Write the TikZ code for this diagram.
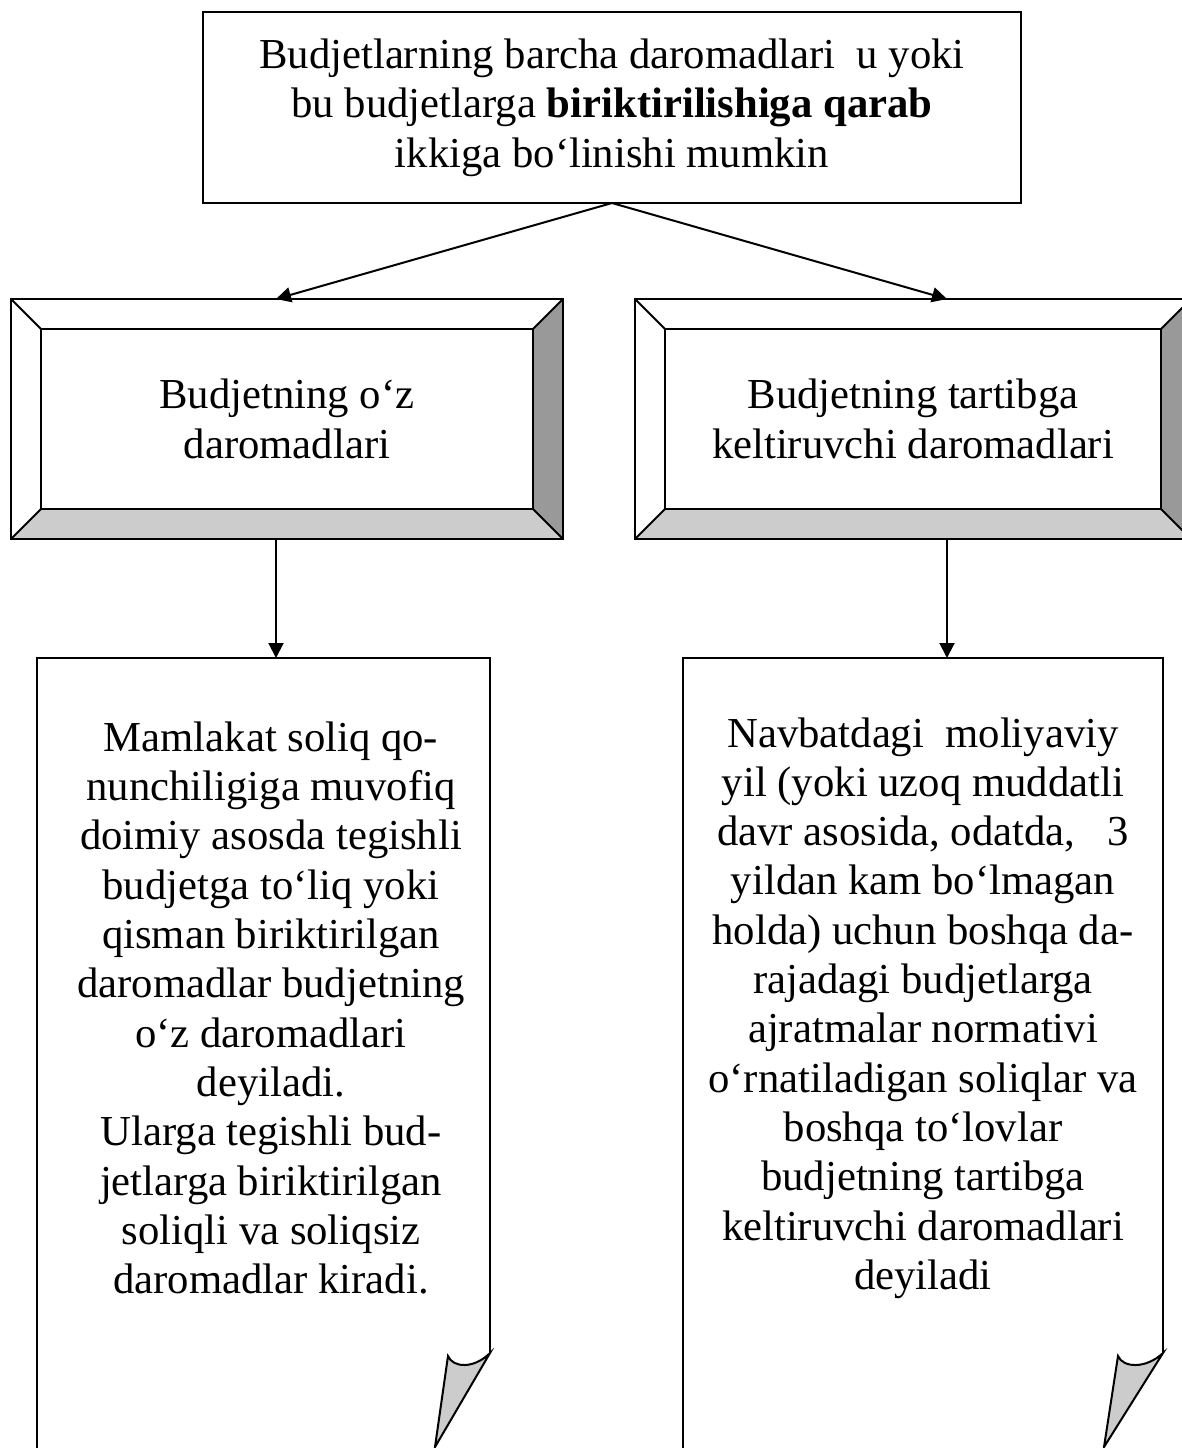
\documentclass[tikz,border=0pt]{standalone}
\usepackage{fontspec}
\setmainfont{Liberation Serif}
\usetikzlibrary{positioning,arrows.meta}
\definecolor{bevlight}{RGB}{204,204,204}
\definecolor{bevdark}{RGB}{153,153,153}
\tikzset{
  txt/.style={font=\fontsize{42.7}{49.3}\selectfont,align=center,inner sep=0pt},
  rulebox/.style={draw,line width=2pt,minimum width=818pt,minimum height=191pt,outer sep=0pt,txt},
  bevbox/.style={minimum height=240pt,outer sep=0pt,txt},
  pagebox/.style={minimum height=798pt,outer sep=0pt,inner sep=0pt},
  edge/.style={line width=2pt,line join=miter},
  arr/.style={line width=2pt,-{Triangle[length=15pt,width=15pt]}}
}
\begin{document}
\begin{tikzpicture}[x=1pt,y=-1pt]
  \useasboundingbox (0,0) rectangle (1182,1448);
  \clip (0,0) rectangle (1182,1448);
  \node[rulebox] (rule) at (612,107.5) {Budjetlarning barcha daromadlari\ \ u yoki\\bu budjetlarga \textbf{biriktirilishiga qarab}\\ikkiga bo‘linishi mumkin};
  \node[bevbox,minimum width=552pt] (ownbox) at (287,419) {Budjetning o‘z\\daromadlari};
  \node[bevbox,minimum width=556pt] (regbox) at (913,419) {Budjetning tartibga\\keltiruvchi daromadlari};
  \node[pagebox,minimum width=453pt] (owndoc) at (263.5,1057) {};
  \node[pagebox,minimum width=480pt] (regdoc) at (923,1057) {};
  \coordinate (ownpin) at (276,0);
  \coordinate (regpin) at (947,0);
  \foreach \b in {ownbox,regbox}{
    \coordinate (\b-nw) at ([xshift=30pt,yshift=-30pt]\b.north west);
    \coordinate (\b-ne) at ([xshift=-30pt,yshift=-30pt]\b.north east);
    \coordinate (\b-se) at ([xshift=-30pt,yshift=30pt]\b.south east);
    \coordinate (\b-sw) at ([xshift=30pt,yshift=30pt]\b.south west);
    \fill[bevlight] (\b.south west) -- (\b.south east) -- (\b-se) -- (\b-sw) -- cycle;
    \fill[bevdark] (\b.north east) -- (\b.south east) -- (\b-se) -- (\b-ne) -- cycle;
    \draw[edge] (\b.north west) rectangle (\b.south east);
    \draw[edge] (\b-nw) rectangle (\b-se);
    \draw[edge] (\b.north west) -- (\b-nw) (\b.north east) -- (\b-ne) (\b.south east) -- (\b-se) (\b.south west) -- (\b-sw);
  }
  \draw[edge] (owndoc.south west) -- (owndoc.north west) -- (owndoc.north east) -- (490,1353);
  \filldraw[edge,fill=bevlight] (490,1353) .. controls (474,1369) and (453,1368) .. (448,1356) -- (435,1447) -- cycle;
  \draw[edge] (regdoc.south west) -- (regdoc.north west) -- (regdoc.north east) -- (1163,1353);
  \filldraw[edge,fill=bevlight] (1163,1353) .. controls (1146,1369) and (1123,1368) .. (1118,1356) -- (1104,1447) -- cycle;
  \draw[arr] (rule.south) -- (ownbox.north -| ownpin);
  \draw[arr] (rule.south) -- (regbox.north -| regpin);
  \draw[arr] (ownbox.south -| ownpin) -- (owndoc.north -| ownpin);
  \draw[arr] (regbox.south -| regpin) -- (regdoc.north -| regpin);
  \node[txt] (owntext) at (271,1008) {Mamlakat soliq qo-\\nunchiligiga muvofiq\\doimiy asosda tegishli\\budjetga to‘liq yoki\\qisman biriktirilgan\\daromadlar budjetning\\o‘z daromadlari\\deyiladi.\\Ularga tegishli bud-\\jetlarga biriktirilgan\\soliqli va soliqsiz\\daromadlar kiradi.};
  \node[txt] (regtext) at (923,1008) {Navbatdagi\ \ moliyaviy\\yil (yoki uzoq muddatli\\davr asosida, odatda,\ \ \ 3\\yildan kam bo‘lmagan\\holda) uchun boshqa da-\\rajadagi budjetlarga\\ajratmalar normativi\\o‘rnatiladigan soliqlar va\\boshqa to‘lovlar\\budjetning tartibga\\keltiruvchi daromadlari\\deyiladi};
\end{tikzpicture}
\end{document}
